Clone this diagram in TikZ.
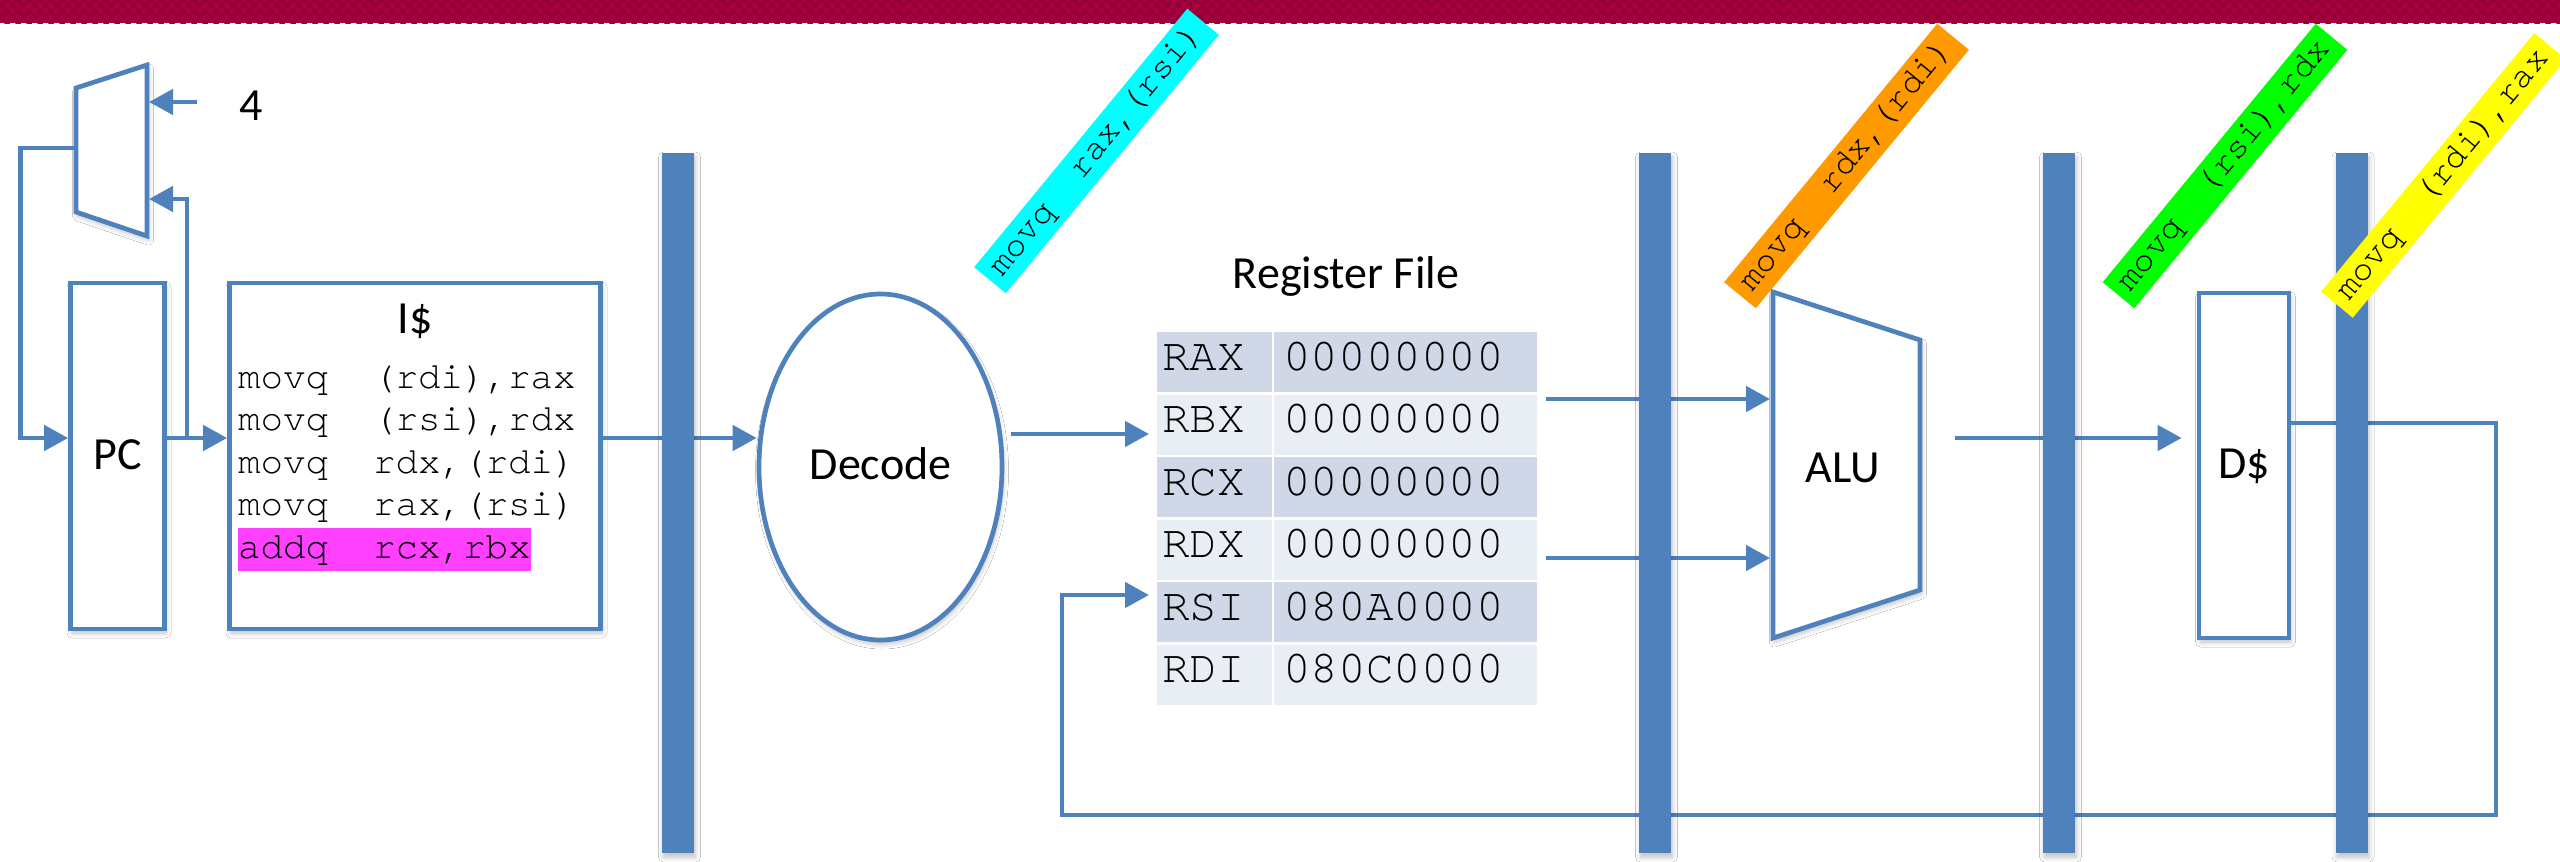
\documentclass[tikz,border=0pt]{standalone}
\usepackage{fontspec}
\setmainfont{Carlito}
\newfontfamily\cour{texgyrecursor-regular.otf}
\usetikzlibrary{arrows.meta,shapes.geometric,patterns,shadows.blur}

\definecolor{pipe}{HTML}{4F81BD}
\definecolor{crimson}{HTML}{A6003F}
\definecolor{crimsondk}{HTML}{920036}
\definecolor{rowA}{HTML}{D0D8E8}
\definecolor{rowB}{HTML}{E9EDF4}
\definecolor{hilite}{HTML}{FF40FF}
\definecolor{tagcyan}{HTML}{00FFFF}
\definecolor{tagorange}{HTML}{FF9900}
\definecolor{taggreen}{HTML}{00FF00}
\definecolor{tagyellow}{HTML}{FFFF00}

\begin{document}
\begin{tikzpicture}[x=1pt,y=-1pt,
  wire/.style={draw=pipe, line width=4.7pt},
  arr/.style={wire, -{Triangle[length=24pt,width=25pt]}},
  softshadow/.style={blur shadow={shadow xshift=1.5pt, shadow yshift=-4pt,
      shadow blur radius=5pt, shadow opacity=25}},
  blockbox/.style={draw=pipe, line width=4.7pt, fill=white, softshadow, inner sep=0},
  latch/.style={fill=pipe, draw=none, minimum width=32pt, minimum height=700pt,
      inner sep=0, softshadow},
  regcell/.style={minimum height=60pt, inner sep=0, anchor=north west},
  lbl/.style={font=\fontsize{46}{55}\selectfont, inner sep=0, anchor=base},
  asmline/.style={font=\cour\fontsize{37.5}{42.5}\selectfont, inner sep=0, anchor=base west},
  regtxt/.style={font=\cour\fontsize{46}{55}\selectfont, inner sep=0, anchor=base west},
  stagetag/.style={minimum width=335pt, minimum height=41pt, inner sep=0, rotate=50.5,
      font=\cour\fontsize{35}{42}\selectfont}
]
\useasboundingbox (0,0) rectangle (2560,862);
\clip (0,0) rectangle (2560,862);
\fill[white] (0,0) rectangle (2560,862);

% title strip
\fill[crimson] (0,0) rectangle (2560,23);
\fill[pattern=checkerboard, pattern color=crimsondk] (0,0) rectangle (2560,23);

% helper rows
\coordinate (yfetch) at (0,438);
\coordinate (yrbx) at (0,434);
\coordinate (ywb) at (0,595);
\coordinate (yds) at (0,423);

% PC mux
\draw[blockbox] (76,88) -- (147,65) -- (147,236) -- (76,212) -- cycle;
\coordinate (muxA) at (149,102);
\coordinate (muxB) at (149,199);
\coordinate (muxO) at (74,148);
\node[lbl] (four) at (251,120) {4};
\coordinate (fourtail) at (197,102);

% fetch blocks
\node[blockbox, minimum width=94pt, minimum height=346pt] (pc) at (117.5,456) {};
\node[lbl] (pctext) at (117.5,469) {PC};
\node[blockbox, minimum width=371pt, minimum height=346pt] (ic) at (415,456) {};
\node[lbl] (ictext) at (415,333) {I\$};
\node[asmline] (i1) at (238,388) {movq\ \ (rdi),rax};
\node[asmline] (i2) at (238,430.5) {movq\ \ (rsi),rdx};
\node[asmline] (i3) at (238,473) {movq\ \ rdx,(rdi)};
\node[asmline] (i4) at (238,515.5) {movq\ \ rax,(rsi)};
\node[asmline, fill=hilite, text height=30pt, text depth=13pt] (i5) at (238,558) {addq\ \ rcx,rbx};

% decode
\node[blockbox, ellipse, minimum width=243pt, minimum height=346pt] (dec) at (880.5,467) {};
\node[lbl] (dectext) at (880.5,479) {Decode};
\coordinate (decout) at (1011,434);

% register file
\node[lbl] (rftitle) at (1346,288) {Register File};
\foreach \r/\v/\c [count=\i from 0] in
  {RAX/00000000/rowA, RBX/00000000/rowB, RCX/00000000/rowA,
   RDX/00000000/rowB, RSI/080A0000/rowA, RDI/080C0000/rowB}{
  \node[regcell, fill=\c, minimum width=115pt] (n\r) at (1157,{332+62.5*\i}) {};
  \node[regcell, fill=\c, minimum width=263pt] (v\r) at (1274,{332+62.5*\i}) {};
  \node[regtxt] (tn\r) at (1162,{370+62.5*\i}) {\r};
  \node[regtxt] (tv\r) at (1283,{370+62.5*\i}) {\v};
}
\coordinate (rfA) at (1546,399);
\coordinate (rfB) at (1546,558);

% ALU
\draw[blockbox] (1773,292) -- (1920,340) -- (1920,590) -- (1773,638) -- cycle;
\coordinate (aluL) at (1770,0);
\node[lbl] (alutext) at (1843,482) {ALU};
\coordinate (aluout) at (1955,438);

% data cache
\node[blockbox, minimum width=90pt, minimum height=345pt] (ds) at (2244,465.5) {};
\node[lbl] (dstext) at (2244,478) {D\$};

% connectors
\draw[arr] (fourtail) -- (muxA);
\draw[arr] (muxO) -| (20.5,438) -- (pc.west |- yfetch);
\draw[arr] (pc.east |- yfetch) -- (ic.west |- yfetch);
\draw[arr] (187,438) |- (muxB);
\draw[arr] (ic.east |- yfetch) -- (dec.west |- yfetch);
\draw[arr, shorten >=8pt] (decout) -- (nRBX.west |- yrbx);
\draw[arr] (rfA) -- (aluL |- rfA);
\draw[arr] (rfB) -- (aluL |- rfB);
\draw[arr, shorten >=15pt] (aluout) -- (ds.west |- aluout);
\draw[arr, shorten >=8pt] (ds.east |- yds) -| (2496,815) -| (1062,595) -- (nRSI.west |- ywb);

% pipeline registers
\node[latch] (p1) at (678,503) {};
\node[latch] (p2) at (1655,503) {};
\node[latch] (p3) at (2059,503) {};
\node[latch] (p4) at (2351.5,503) {};

% instructions in flight
\begin{scope}[shift={(1096.5,151)}]
  \node[stagetag, fill=tagcyan] (tagdec) {movq\ \ rax,(rsi)};
\end{scope}
\begin{scope}[shift={(1846.5,166)}]
  \node[stagetag, fill=tagorange] (tagex) {movq\ \ rdx,(rdi)};
\end{scope}
\begin{scope}[shift={(2225,166)}]
  \node[stagetag, fill=taggreen] (tagmem) {movq\ \ (rsi),rdx};
\end{scope}
\begin{scope}[shift={(2443.5,175.5)}]
  \node[stagetag, fill=tagyellow] (tagwb) {movq\ \ (rdi),rax};
\end{scope}
\end{tikzpicture}
\end{document}
